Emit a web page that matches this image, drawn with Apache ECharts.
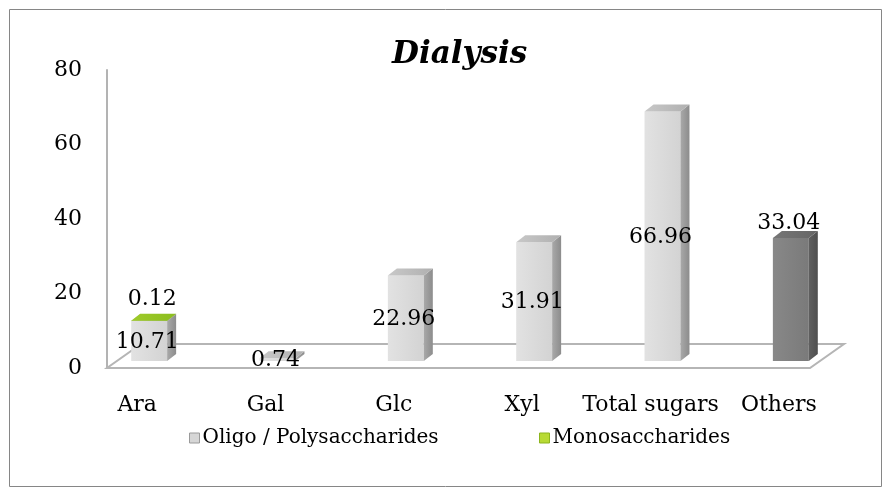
<!DOCTYPE html>
<html><head><meta charset="utf-8">
<script src="https://cdn.jsdelivr.net/npm/echarts@6/dist/echarts.min.js"></script>
<style>html,body{margin:0;padding:0;background:#fff}#c{width:890px;height:496px}</style>
</head><body><div id="c"></div>
<script>
// ---- data ----
const categories = ['Ara', 'Gal', 'Glc', 'Xyl', 'Total sugars', 'Others'];
const oligoValues = [10.71, 0.74, 22.96, 31.91, 66.96, 33.04];
const monoValues = [0.12, null, null, null, null, null];
const yMin = 0, yMax = 80, yStep = 20;
const seriesNames = ['Oligo / Polysaccharides', 'Monosaccharides'];

// ---- style ----
const FONT = 'DejaVu Serif';
const DX = 9, DY = -7;          // bar depth
const SX = 12, SY = -7;         // bar plane offset from floor front edge
const FLOOR_DX = 34, FLOOR_DY = -24;
const BAR_FRAC = 0.28;
const lightCols = {front: ['#e2e2e2', '#d3d3d3'], side: ['#a9a9a9', '#8c8c8c'], top: ['#c8c8c8', '#b0b0b0']};
const darkCols = {front: ['#888888', '#7a7a7a'], side: ['#606060', '#4f4f4f'], top: ['#767676', '#666666']};
const greenCols = {front: ['#9bc82a', '#8ab81e'], side: ['#7fa81a', '#6f9515'], top: ['#9fcb2a', '#8bbd1e']};

function grad(c) {
  return new echarts.graphic.LinearGradient(0, 0, 1, 0, [{offset: 0, color: c[0]}, {offset: 1, color: c[1]}]);
}
function barEls(x0, x1, yTop, yBot, cols) {
  return [
    {type: 'polygon', shape: {points: [[x0, yBot], [x1, yBot], [x1, yTop], [x0, yTop]]}, style: {fill: grad(cols.front)}},
    {type: 'polygon', shape: {points: [[x1, yBot], [x1 + DX, yBot + DY], [x1 + DX, yTop + DY], [x1, yTop]]}, style: {fill: grad(cols.side)}},
    {type: 'polygon', shape: {points: [[x0, yTop], [x1, yTop], [x1 + DX, yTop + DY], [x0 + DX, yTop + DY]]}, style: {fill: grad(cols.top)}}
  ];
}
function label(txt, x, y, vAlign) {
  return {type: 'text', z2: 10, style: {text: txt, x: x, y: y, align: 'center', verticalAlign: vAlign,
    font: '22px "' + FONT + '"', fill: '#000'}};
}

function renderOligo(params, api) {
  const i = params.dataIndex;
  const v = api.value(1);
  const c = api.coord([i, v]);
  const b = api.coord([i, 0]);
  const bw = api.size([1, 0])[0];
  const w = bw * BAR_FRAC;
  const cx = c[0] + SX;
  const x0 = cx - w / 2, x1 = cx + w / 2;
  const yTop = c[1] + SY, yBot = b[1] + SY;
  const children = [];
  if (i === 0) {
    const cs = params.coordSys;
    const fl = cs.x + 34, fr = cs.x + cs.width - 33, fy = b[1];
    children.push({type: 'polygon', shape: {points: [[fl, fy], [fr, fy], [fr + FLOOR_DX, fy + FLOOR_DY], [fl + FLOOR_DX, fy + FLOOR_DY]]},
      style: {fill: '#fff', stroke: '#b5b5b5', lineWidth: 2}});
  }
  const isLast = i === categories.length - 1;
  children.push(...barEls(x0, x1, yTop, yBot, isLast ? darkCols : lightCols));
  const txt = String(v.toFixed(2));
  if (isLast) children.push(label(txt, cx - 2, yTop + DY + 3, 'bottom'));
  else children.push(label(txt, cx - 2, (yTop + yBot) / 2 + 1, 'middle'));
  return {type: 'group', children: children};
}
function renderMono(params, api) {
  const i = params.dataIndex;
  const v = api.value(1);
  if (v == null || isNaN(v)) return null;
  const base = oligoValues[i];
  const c = api.coord([i, base + v]);
  const b = api.coord([i, base]);
  const bw = api.size([1, 0])[0];
  const w = bw * BAR_FRAC;
  const cx = c[0] + SX;
  const x0 = cx - w / 2, x1 = cx + w / 2;
  const yTop = c[1] + SY, yBot = b[1] + SY;
  const children = barEls(x0, x1, yTop, yBot, greenCols);
  children.push(label(String(v.toFixed(2)), cx + 3, yTop + DY - 3, 'bottom'));
  return {type: 'group', children: children};
}

const chart = echarts.init(document.getElementById('c'), null, {renderer: 'canvas'});
chart.setOption({
  animation: false,
  backgroundColor: '#fff',
  title: {text: 'Dialysis', left: 387, top: 34,
    textStyle: {fontFamily: FONT, fontSize: 31, fontWeight: 'bold', fontStyle: 'italic', color: '#000'}},
  graphic: [{type: 'rect', shape: {x: 9.5, y: 9.5, width: 872, height: 477}, style: {fill: 'none', stroke: '#868686', lineWidth: 1}, silent: true}],
  legend: [
    {data: [{name: seriesNames[0], icon: 'rect', itemStyle: {color: '#d6d6d6', borderColor: '#9a9a9a', borderWidth: 1}}],
      left: 184, top: 423, itemWidth: 10, itemHeight: 10, itemGap: 0, selectedMode: false,
      textStyle: {fontFamily: FONT, fontSize: 20, color: '#000', padding: [0, 0, 0, -2]}},
    {data: [{name: seriesNames[1], icon: 'rect', itemStyle: {color: '#b8da35', borderColor: '#8db51e', borderWidth: 1}}],
      left: 534, top: 423, itemWidth: 10, itemHeight: 10, itemGap: 0, selectedMode: false,
      textStyle: {fontFamily: FONT, fontSize: 20, color: '#000', padding: [0, 0, 0, -2]}}
  ],
  grid: {left: 73, top: 70, width: 770, height: 298, containLabel: false},
  xAxis: {type: 'category', data: categories, boundaryGap: true,
    axisLine: {show: false}, axisTick: {show: false}, splitLine: {show: false},
    axisLabel: {fontFamily: FONT, fontSize: 22, color: '#000', margin: 26, interval: 0}},
  yAxis: {type: 'value', min: yMin, max: yMax, interval: yStep, offset: -34,
    axisLine: {show: true, lineStyle: {color: '#b3b3b3', width: 2}}, axisTick: {show: false},
    splitLine: {show: false},
    axisLabel: {fontFamily: FONT, fontSize: 22, color: '#000', margin: 25}},
  series: [
    {name: seriesNames[0], type: 'custom', renderItem: renderOligo, itemStyle: {color: '#d6d6d6'},
      encode: {x: 0, y: 1}, data: oligoValues.map((v, i) => [i, v]), z: 2},
    {name: seriesNames[1], type: 'custom', renderItem: renderMono, itemStyle: {color: '#b8da35'},
      encode: {x: 0, y: 1}, data: monoValues.map((v, i) => [i, v == null ? NaN : v]), z: 3}
  ]
});
</script>
</body></html>
